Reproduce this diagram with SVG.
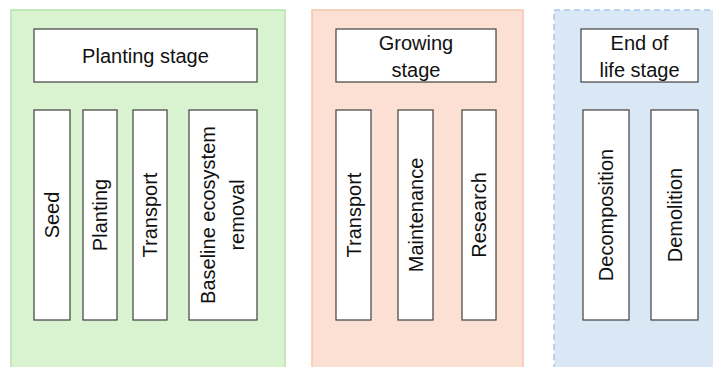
<svg xmlns="http://www.w3.org/2000/svg" width="713" height="367" viewBox="0 0 713 367">
<style>
.box{fill:#fff;stroke:#404040;stroke-width:1.2}
.t{font-family:"Liberation Sans",Arial,sans-serif;font-size:20px;fill:#111;text-anchor:middle;dominant-baseline:central}
</style>
<rect width="713" height="367" fill="#fff"/>
<g id="panel-planting">
<rect x="11" y="10" width="274" height="370" fill="#d9f2d0" stroke="#b4e3a6" stroke-width="1.5"/>
<rect class="box" x="34" y="29" width="223" height="53"/>
<text class="t" x="145.5" y="56">Planting stage</text>
</g>
<g id="seed"><rect class="box" x="34" y="110" width="36" height="210"/><text class="t" transform="translate(52,215) rotate(-90)">Seed</text></g>
<g id="planting"><rect class="box" x="83" y="110" width="34" height="210"/><text class="t" transform="translate(100,215) rotate(-90)">Planting</text></g>
<g id="transport1"><rect class="box" x="133" y="110" width="34" height="210"/><text class="t" transform="translate(150,215) rotate(-90)">Transport</text></g>
<g id="baseline"><rect class="box" x="189" y="110" width="68" height="210"/><text class="t" transform="translate(223,215) rotate(-90)"><tspan x="0" y="-15">Baseline ecosystem</tspan><tspan x="0" y="14">removal</tspan></text></g>
<g id="panel-growing">
<rect x="312" y="10" width="211" height="370" fill="#fbe0d3" stroke="#f5c6ad" stroke-width="1.5"/>
<rect class="box" x="336" y="29" width="160" height="53"/>
<text class="t"><tspan x="416" y="43">Growing</tspan><tspan x="416" y="70">stage</tspan></text>
</g>
<g id="transport2"><rect class="box" x="336" y="110" width="35" height="210"/><text class="t" transform="translate(353.5,215) rotate(-90)">Transport</text></g>
<g id="maintenance"><rect class="box" x="398" y="110" width="35" height="210"/><text class="t" transform="translate(415.5,215) rotate(-90)">Maintenance</text></g>
<g id="research"><rect class="box" x="462" y="110" width="34" height="210"/><text class="t" transform="translate(479,215) rotate(-90)">Research</text></g>
<g id="panel-end">
<rect x="554" y="10" width="180" height="370" fill="#dae7f5" stroke="#a9c9ec" stroke-width="1.5" stroke-dasharray="6,4"/>
<rect class="box" x="581" y="29" width="117" height="53"/>
<text class="t"><tspan x="639.5" y="43">End of</tspan><tspan x="639.5" y="70">life stage</tspan></text>
</g>
<g id="decomposition"><rect class="box" x="583" y="110" width="46" height="210"/><text class="t" transform="translate(606,215) rotate(-90)">Decomposition</text></g>
<g id="demolition"><rect class="box" x="651" y="110" width="47" height="210"/><text class="t" transform="translate(674.5,215) rotate(-90)">Demolition</text></g>
<g id="connectors"/>
</svg>
